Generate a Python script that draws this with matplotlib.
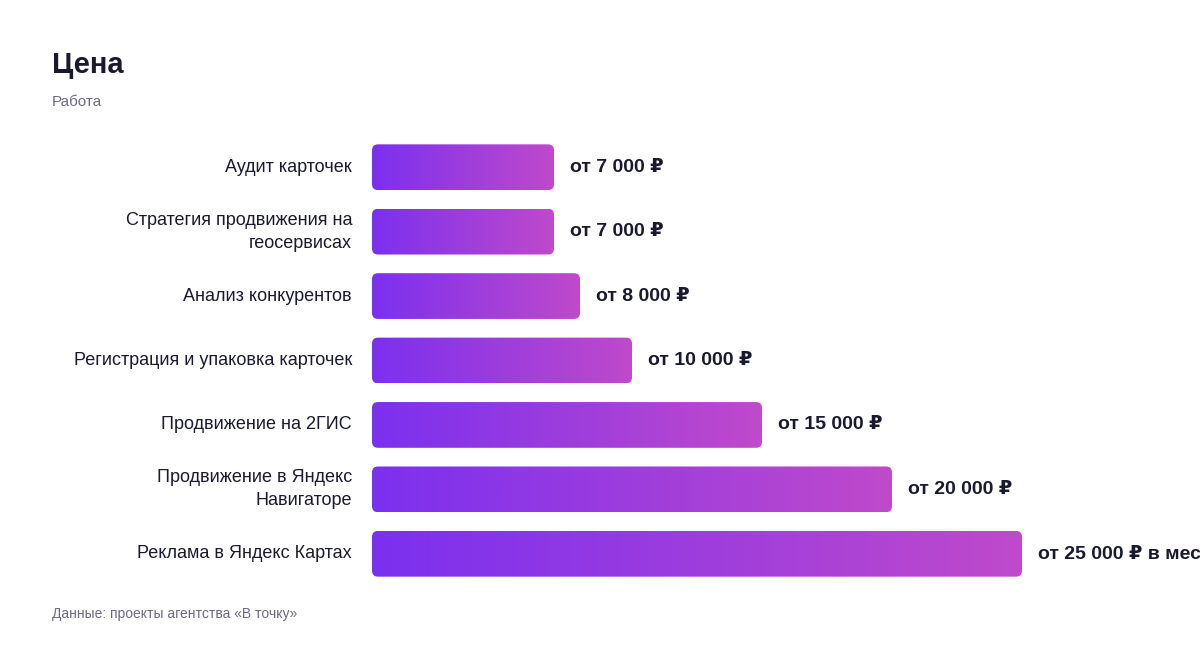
import matplotlib
matplotlib.use("Agg")
import matplotlib.pyplot as plt
import numpy as np
from matplotlib.patches import FancyBboxPatch
from matplotlib.colors import LinearSegmentedColormap

categories = ["Аудит карточек", "Стратегия продвижения на\nгеосервисах", "Анализ конкурентов",
              "Регистрация и упаковка карточек", "Продвижение на 2ГИС",
              "Продвижение в Яндекс\nНавигаторе", "Реклама в Яндекс Картах"]
values = [7000, 7000, 8000, 10000, 15000, 20000, 25000]
labels = ["от 7 000 ₽", "от 7 000 ₽", "от 8 000 ₽", "от 10 000 ₽", "от 15 000 ₽",
          "от 20 000 ₽", "от 25 000 ₽ в месяц"]

plt.rcParams['font.family'] = ['Liberation Sans', 'DejaVu Sans']
W, H = 1200, 648
fig = plt.figure(figsize=(12, 6.48), dpi=100)
ax_l, ax_r, ax_t, ax_b = 372, 1200, 135, 586
ax = fig.add_axes([ax_l / W, 1 - ax_b / H, (ax_r - ax_l) / W, (ax_b - ax_t) / H])
px_per_unit = 0.026
xmax = (ax_r - ax_l) / px_per_unit

cmap = LinearSegmentedColormap.from_list("g", ["#7B30EF", "#BF4ACB"])
grad = np.linspace(0, 1, 256).reshape(1, -1)
xu = 1 / px_per_unit
yu = len(values) / (ax_b - ax_t)
bh = 0.71
for i, v in enumerate(values):
    patch = FancyBboxPatch((0, i - bh / 2), v, bh, boxstyle=f"round,pad=0,rounding_size={6 * xu}",
                           mutation_aspect=yu / xu, facecolor="none", edgecolor="none")
    ax.add_patch(patch)
    im = ax.imshow(grad, cmap=cmap, aspect="auto", extent=(0, v, i + bh / 2, i - bh / 2),
                   interpolation="bilinear")
    im.set_clip_path(patch)
    ax.text(v + 16 * xu, i, labels[i], va="center", ha="left", fontsize=14,
            fontweight="bold", color="#1a1a2e", clip_on=False)
    ax.text(-20 * xu, i, categories[i], va="center", ha="right", fontsize=13,
            color="#1a1a2e", linespacing=1.45)
ax.set_xlim(0, xmax)
ax.set_ylim(len(values) - 0.5, -0.5)
ax.axis("off")

fig.text(52 / W, 1 - 65 / H, "Цена", fontsize=21, fontweight="bold", color="#1a1a2e", va="center")
fig.text(52 / W, 1 - 102 / H, "Работа", fontsize=11, color="#6b6b80", va="center")
fig.text(52 / W, 1 - 614 / H, "Данные: проекты агентства «В точку»", fontsize=10, color="#6b6b80", va="center")
fig.savefig("out.png", dpi=100, facecolor="white")
